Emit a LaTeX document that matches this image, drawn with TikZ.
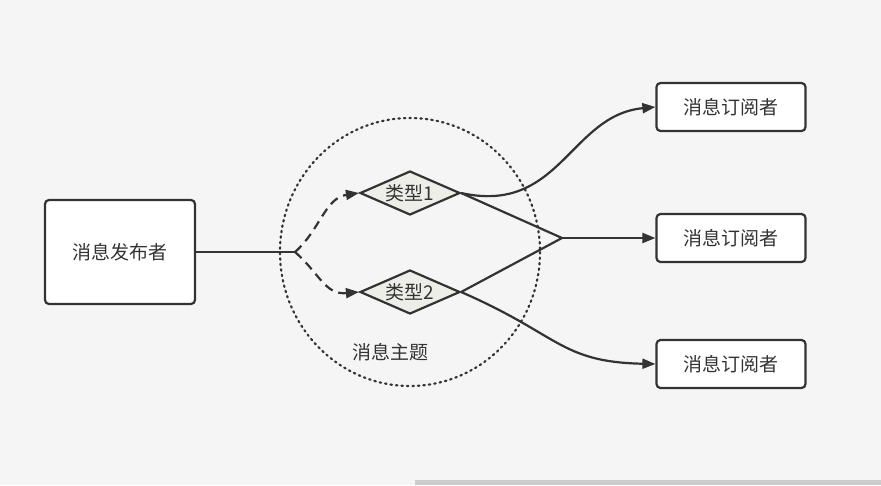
\documentclass[tikz,border=0pt]{standalone}
\usepackage{fontspec}
\newfontfamily\cjk{Noto Sans CJK SC}
\usetikzlibrary{shapes.geometric,arrows.meta}
\definecolor{bg}{HTML}{F5F5F5}
\definecolor{ln}{HTML}{333333}
\definecolor{dfill}{HTML}{EEEEE8}
\begin{document}
\begin{tikzpicture}[x=1pt,y=-1pt,font=\fontsize{19}{22}\cjk,text=ln,
    >={Triangle[length=13pt,width=10pt]}]
    \tikzstyle{box}=[draw=ln,line width=2.2pt,fill=white,rounded corners=4pt,inner sep=0pt]
    \tikzstyle{topic}=[diamond,draw=ln,line width=2.2pt,fill=dfill,minimum width=100pt,minimum height=44pt,inner sep=0pt,aspect=2.3]
    \tikzstyle{link}=[draw=ln,line width=2.2pt]
    \fill[bg] (0,0) rectangle (881,485);
    \fill[black!20] (415,480) rectangle (881,485);

    \draw[ln,line width=2.2pt,dash pattern=on 1.5pt off 4pt,line cap=round] (410,252) ellipse [x radius=130,y radius=134];
    \node at (390,352) {消息主题};

    \node[box,minimum width=150pt,minimum height=104pt] (pub) at (120,252) {消息发布者};
    \node[topic] (t1) at (410,193) {类型1};
    \node[topic] (t2) at (410,292) {类型2};

    % subscribers
    \foreach \name / \y in {1/107,2/238,3/364}
        \node[box,minimum width=149pt,minimum height=48pt] (S-\name) at (731,\y) {消息订阅者};

    \coordinate (fork) at (295,252);
    \coordinate (join) at (562,238);

    \path[link] (pub.east) -- (fork);
    \draw[link,dash pattern=on 9pt off 6pt,->] (fork) .. controls (320,230) and (325,198) .. (t1.west);
    \draw[link,dash pattern=on 9pt off 6pt,->] (fork) .. controls (320,274) and (325,295) .. (t2.west);
    \draw[link,->] (t1.east) .. controls (560,215) and (570,115) .. (S-1.west);
    \draw[link,->] (t2.east) .. controls (560,335) and (560,362) .. (S-3.west);
    \path[link] (t1.east) -- (join) -- (t2.east);
    \draw[link,->] (join) -- (S-2.west);
\end{tikzpicture}
\end{document}
